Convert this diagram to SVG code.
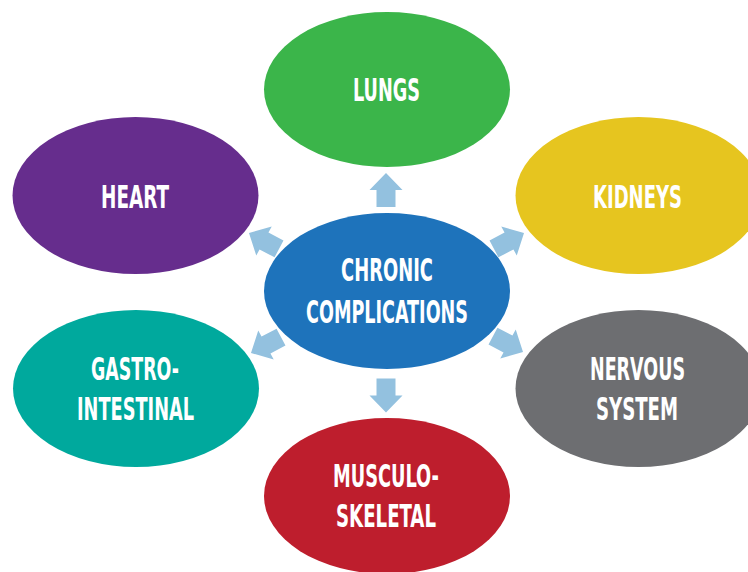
<svg xmlns="http://www.w3.org/2000/svg" width="748" height="572" viewBox="0 0 748 572">
<defs>
<style>
.lbl{font-family:"DejaVu Sans Condensed","DejaVu Sans","Liberation Sans",sans-serif;font-weight:bold;font-size:32px;fill:#ffffff;text-anchor:middle}
.arr{fill:#93C1DF}
</style>
<path id="arrow" d="M0,-17 L16.5,0 L9.5,0 L9.5,17 L-9.5,17 L-9.5,0 L-16.5,0 Z"/>
</defs>
<rect width="748" height="572" fill="#ffffff"/>
<g id="connectors" class="arr">
<use href="#arrow" transform="translate(386,190)"/>
<use href="#arrow" transform="translate(386,395.5) rotate(180)"/>
<use href="#arrow" transform="translate(264,241) rotate(-62)"/>
<use href="#arrow" transform="translate(509,241) rotate(62)"/>
<use href="#arrow" transform="translate(266,345) rotate(-118)"/>
<use href="#arrow" transform="translate(508,344) rotate(118)"/>
</g>
<g id="lungs">
<ellipse cx="387" cy="89.5" rx="123" ry="77.5" fill="#3BB54A"/>
<text class="lbl" x="386.5" y="101" textLength="67" lengthAdjust="spacingAndGlyphs">LUNGS</text>
</g>
<g id="heart">
<ellipse cx="135.5" cy="195.5" rx="123" ry="78.5" fill="#662D8D"/>
<text class="lbl" x="135" y="208" textLength="68" lengthAdjust="spacingAndGlyphs">HEART</text>
</g>
<g id="kidneys">
<ellipse cx="638.5" cy="195.5" rx="123" ry="78.5" fill="#E6C51F"/>
<text class="lbl" x="637.5" y="208" textLength="89" lengthAdjust="spacingAndGlyphs">KIDNEYS</text>
</g>
<g id="chronic-complications">
<ellipse cx="387" cy="291" rx="123" ry="78" fill="#1E73BB"/>
<text class="lbl" x="387" y="281" textLength="92" lengthAdjust="spacingAndGlyphs">CHRONIC</text>
<text class="lbl" x="387" y="323" textLength="162" lengthAdjust="spacingAndGlyphs">COMPLICATIONS</text>
</g>
<g id="gastro-intestinal">
<ellipse cx="136" cy="388.5" rx="123" ry="78.5" fill="#00A99D"/>
<text class="lbl" x="135" y="380" textLength="88" lengthAdjust="spacingAndGlyphs">GASTRO-</text>
<text class="lbl" x="135.5" y="420" textLength="117" lengthAdjust="spacingAndGlyphs">INTESTINAL</text>
</g>
<g id="nervous-system">
<ellipse cx="638.5" cy="388.5" rx="123" ry="78.5" fill="#6D6E71"/>
<text class="lbl" x="637.5" y="380" textLength="95" lengthAdjust="spacingAndGlyphs">NERVOUS</text>
<text class="lbl" x="637" y="420" textLength="82" lengthAdjust="spacingAndGlyphs">SYSTEM</text>
</g>
<g id="musculo-skeletal">
<ellipse cx="387" cy="496" rx="123" ry="78" fill="#BE1E2D"/>
<text class="lbl" x="386" y="487" textLength="106" lengthAdjust="spacingAndGlyphs">MUSCULO-</text>
<text class="lbl" x="386" y="527" textLength="100" lengthAdjust="spacingAndGlyphs">SKELETAL</text>
</g>
</svg>
